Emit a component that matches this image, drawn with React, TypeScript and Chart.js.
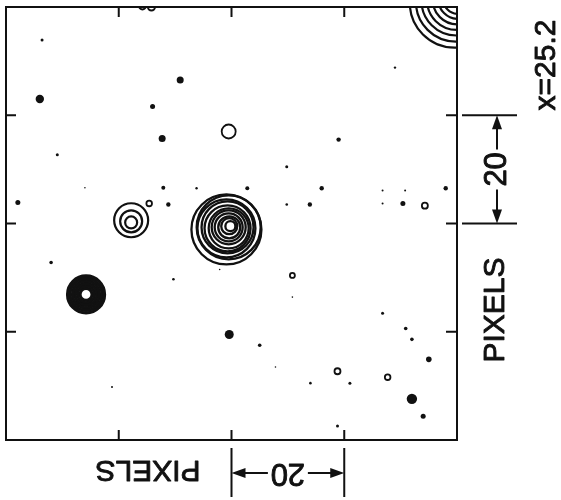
import { useEffect, useRef } from "react";
import { Chart, registerables } from "chart.js";

Chart.register(...registerables);

const INK = "#111111";
const FONT = '"Liberation Sans", Arial, sans-serif';

// Field of view, in detector pixels
const FIELD_MIN = 0;
const FIELD_MAX = 80;
const TICK_VALUES = [20, 40, 60];
// 20-pixel scale bar ends
const BAR_FROM = 40;
const BAR_TO = 60;
const BAR_LABEL = "20";
const AXIS_LABEL = "PIXELS";
const FRAME_LABEL = "x=25.2";

// Bright central source: contour centres (pixels) and contour radii (screen px)
const MAIN_X = [39.8, 39.6, 39.6, 39.5, 39.5, 39.5, 39.3, 39.3, 39.1, 39.5, 39.1];
const MAIN_Y = [39.5, 39.5, 39.3, 39.3, 39.3, 39.1, 39.1, 39.3, 39.1, 39.3, 38.9];
const MAIN_R = [5, 8, 11, 14, 17, 20, 23, 26, 29, 32, 35];

// Source to the left of centre
const WEST_X = [22.2, 22.2, 22.2];
const WEST_Y = [40.2, 40.4, 40.6];
const WEST_R = [6, 11, 17];

// Compact source at lower left
const SW_X = [14.2, 14.2, 14.2, 14.2, 14.2, 14.2];
const SW_Y = [26.9, 26.9, 26.9, 26.9, 26.9, 26.9];
const SW_R = [6, 8.5, 11, 13.5, 16, 18.5];

// Source cut by the upper-right corner
const CORNER_X = [80.2, 80.2, 80.1, 80.0, 79.9, 79.8, 79.6];
const CORNER_Y = [81.5, 81.5, 81.4, 81.3, 81.2, 81.0, 80.8];
const CORNER_R = [15, 20, 25, 30, 35, 40, 45];

// Faint contours along the top edge
const EDGE_X = [24.2, 25.8];
const EDGE_Y = [80.2, 80.0];
const EDGE_R = [3.5, 3.5];

// Isolated open contours
const RING_X = [25.4, 39.5, 50.8, 58.8, 67.7, 74.3];
const RING_Y = [43.7, 57.0, 30.4, 12.7, 11.6, 43.3];
const RING_R = [2.8, 7, 2.5, 3, 2.8, 3];

// Unresolved peaks (filled)
const DOT_X = [6.0, 6.4, 30.9, 26.0, 27.7, 9.1, 14.0, 27.9, 33.8, 42.8, 2.1, 28.8, 59.0, 49.8, 56.0, 49.8, 53.9, 66.8, 70.8, 66.8, 70.4, 78.0, 69.0, 8.0, 29.7, 39.6, 45.0, 47.8, 18.8, 50.8, 66.8, 70.9, 72.0, 75.0, 54.0, 61.0, 72.0, 74.0, 58.8, 37.9];
const DOT_Y = [63.0, 73.9, 66.5, 61.6, 55.7, 52.7, 46.6, 46.6, 46.5, 46.5, 43.9, 43.5, 55.5, 50.5, 46.5, 43.5, 43.5, 46.1, 46.1, 43.7, 43.7, 46.5, 68.8, 32.8, 29.7, 19.5, 17.5, 13.5, 9.8, 26.4, 23.4, 20.6, 18.6, 14.9, 10.5, 10.5, 7.6, 4.4, 2.6, 31.5];
const DOT_R = [4.2, 1.5, 3.5, 2.5, 3.5, 1.5, 0.8, 2, 1.2, 2, 2.5, 2.2, 2.2, 1.5, 2.2, 1.3, 2.2, 1, 1, 1, 2.5, 2.2, 1.2, 1.8, 1.3, 4.5, 1.8, 0.8, 1, 0.8, 1.5, 1.8, 1.8, 2.8, 1.3, 1.5, 5.2, 2.5, 1.5, 0.8];

const toPoints = (xs: number[], ys: number[], rs: number[]) =>
  xs.map((x, i) => ({ x, y: ys[i], r: rs[i] }));

const contourSet = (label: string, xs: number[], ys: number[], rs: number[], width: number) => ({
  label,
  data: toPoints(xs, ys, rs),
  backgroundColor: "rgba(0,0,0,0)",
  borderColor: INK,
  borderWidth: width,
  clip: 0,
});

function arrowHead(ctx: CanvasRenderingContext2D, x: number, y: number, dx: number, dy: number) {
  const len = 14;
  const half = 5;
  const bx = x - dx * len;
  const by = y - dy * len;
  ctx.beginPath();
  ctx.moveTo(x, y);
  ctx.lineTo(bx - dy * half, by + dx * half);
  ctx.lineTo(bx + dy * half, by - dx * half);
  ctx.closePath();
  ctx.fill();
}

function drawText(ctx: CanvasRenderingContext2D, text: string, x: number, y: number, angle: number, size: number) {
  ctx.save();
  ctx.translate(x, y);
  ctx.rotate(angle);
  ctx.font = `${size}px ${FONT}`;
  ctx.textAlign = "center";
  ctx.textBaseline = "middle";
  ctx.lineWidth = 0.9;
  ctx.lineJoin = "round";
  ctx.fillText(text, 0, 0);
  ctx.strokeText(text, 0, 0);
  ctx.restore();
}

const framePlugin = {
  id: "frameAndBars",
  afterDraw(chart: any) {
    const { ctx, chartArea: a, scales } = chart;
    const xs = scales.x;
    const ys = scales.y;
    ctx.save();
    ctx.strokeStyle = INK;
    ctx.fillStyle = INK;
    ctx.lineWidth = 2;
    ctx.lineCap = "butt";

    // frame
    ctx.strokeRect(a.left, a.top, a.right - a.left, a.bottom - a.top);

    // inward ticks on all four sides
    ctx.beginPath();
    for (const v of TICK_VALUES) {
      const px = xs.getPixelForValue(v);
      const py = ys.getPixelForValue(v);
      ctx.moveTo(px, a.top);
      ctx.lineTo(px, a.top + 10);
      ctx.moveTo(px, a.bottom);
      ctx.lineTo(px, a.bottom - 10);
      ctx.moveTo(a.left, py);
      ctx.lineTo(a.left + 10, py);
      ctx.moveTo(a.right, py);
      ctx.lineTo(a.right - 11, py);
    }
    ctx.stroke();

    // right-hand scale bar
    const yTop = ys.getPixelForValue(BAR_TO);
    const yBot = ys.getPixelForValue(BAR_FROM);
    const yMid = (yTop + yBot) / 2;
    const bx = a.right + 40;
    ctx.beginPath();
    ctx.moveTo(a.right + 5, yTop);
    ctx.lineTo(a.right + 60, yTop);
    ctx.moveTo(a.right + 5, yBot);
    ctx.lineTo(a.right + 60, yBot);
    ctx.moveTo(bx, yTop + 12);
    ctx.lineTo(bx, yMid - 20);
    ctx.moveTo(bx, yMid + 20);
    ctx.lineTo(bx, yBot - 12);
    ctx.stroke();
    arrowHead(ctx, bx, yTop, 0, -1);
    arrowHead(ctx, bx, yBot, 0, 1);
    drawText(ctx, BAR_LABEL, bx, yMid, -Math.PI / 2, 31);

    // bottom scale bar (upside down)
    const xL = xs.getPixelForValue(BAR_FROM);
    const xR = xs.getPixelForValue(BAR_TO);
    const by = a.bottom + 33;
    const xMid = (xL + xR) / 2;
    ctx.beginPath();
    ctx.moveTo(xL, a.bottom + 8);
    ctx.lineTo(xL, a.bottom + 57);
    ctx.moveTo(xR, a.bottom + 8);
    ctx.lineTo(xR, a.bottom + 57);
    ctx.moveTo(xL + 12, by);
    ctx.lineTo(xMid - 20, by);
    ctx.moveTo(xMid + 20, by);
    ctx.lineTo(xR - 12, by);
    ctx.stroke();
    arrowHead(ctx, xL, by, -1, 0);
    arrowHead(ctx, xR, by, 1, 0);
    drawText(ctx, BAR_LABEL, xMid, by, Math.PI, 31);

    // axis labels
    drawText(ctx, AXIS_LABEL, 148, a.bottom + 29, Math.PI, 30);
    drawText(ctx, AXIS_LABEL, a.right + 39, 310, -Math.PI / 2, 30);
    drawText(ctx, FRAME_LABEL, a.right + 90, 65, -Math.PI / 2, 30);
    ctx.restore();
  },
};

export default function App() {
  const canvasRef = useRef<HTMLCanvasElement | null>(null);

  useEffect(() => {
    const canvas = canvasRef.current;
    if (!canvas) return;
    const chart = new Chart(canvas, {
      type: "bubble",
      data: {
        datasets: [
          contourSet("main", MAIN_X, MAIN_Y, MAIN_R, 2.3),
          contourSet("west", WEST_X, WEST_Y, WEST_R, 2.2),
          contourSet("southwest", SW_X, SW_Y, SW_R, 3.2),
          contourSet("corner", CORNER_X, CORNER_Y, CORNER_R, 2.2),
          contourSet("edge", EDGE_X, EDGE_Y, EDGE_R, 2),
          contourSet("rings", RING_X, RING_Y, RING_R, 1.8),
          {
            label: "peaks",
            data: toPoints(DOT_X, DOT_Y, DOT_R),
            backgroundColor: INK,
            borderColor: INK,
            borderWidth: 0,
            clip: 0,
          },
        ],
      },
      options: {
        responsive: false,
        animation: false,
        events: [],
        layout: { autoPadding: false, padding: { left: 6, top: 7, right: 104, bottom: 60 } },
        plugins: {
          legend: { display: false },
          tooltip: { enabled: false },
        },
        scales: {
          x: { type: "linear", min: FIELD_MIN, max: FIELD_MAX, display: false },
          y: { type: "linear", min: FIELD_MIN, max: FIELD_MAX, display: false },
        },
      },
      plugins: [framePlugin],
    } as any);
    return () => chart.destroy();
  }, []);

  return (
    <div style={{ position: "absolute", left: 0, top: 0, width: 561, height: 500, background: "#ffffff" }}>
      <canvas ref={canvasRef} width={561} height={500} />
    </div>
  );
}
